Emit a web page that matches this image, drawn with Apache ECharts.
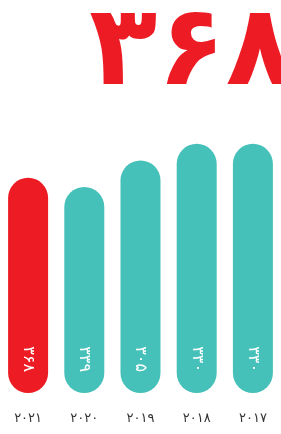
<!DOCTYPE html>
<html>
<head>
<meta charset="utf-8">
<script src="https://cdn.jsdelivr.net/npm/echarts@6/dist/echarts.min.js"></script>
<style>
  html, body { margin: 0; padding: 0; background: #fff; }
  #chart { width: 281px; height: 434px; }
</style>
</head>
<body>
<div id="chart"></div>
<script>
// years, newest first (rtl layout)
const years = ['۲۰۲۱', '۲۰۲۰', '۲۰۱۹', '۲۰۱۸', '۲۰۱۷'];
// bar heights
const values = [285, 273, 308, 330, 330];
// text printed inside each bar
const valueLabels = ['۳۶۸', '۳۳۹', '۳۰۵', '۳۳۰', '۳۳۰'];
const headline = '۳۶۸';

const red = '#ED1C24';
const teal = '#45C1BA';

let myChart = echarts.init(document.getElementById('chart'));
var option = {
  animation: false,
  title: {
    text: headline,
    right: -18,
    top: -6,
    textStyle: { color: red, fontSize: 112, fontWeight: 'bold', fontFamily: 'DejaVu Sans' }
  },
  grid: { left: -1, width: 291, top: 91, bottom: 41 },
  xAxis: {
    type: 'category',
    data: years,
    axisLine: { show: false },
    axisTick: { show: false },
    axisLabel: { color: '#333', fontSize: 13, margin: 19, fontFamily: 'DejaVu Sans' }
  },
  yAxis: { type: 'value', min: 0, max: 400, show: false },
  series: [{
    type: 'bar',
    barWidth: 40,
    data: values.map(function (v, i) {
      return { value: v, itemStyle: { color: i === 0 ? red : teal } };
    }),
    itemStyle: { borderRadius: 20 },
    label: {
      show: true,
      position: 'insideBottom',
      distance: 21,
      rotate: -90,
      align: 'right',
      verticalAlign: 'middle',
      color: '#fff',
      fontSize: 16,
      fontFamily: 'DejaVu Sans',
      formatter: function (p) { return valueLabels[p.dataIndex]; }
    }
  }]
};
myChart.setOption(option);
</script>
</body>
</html>
